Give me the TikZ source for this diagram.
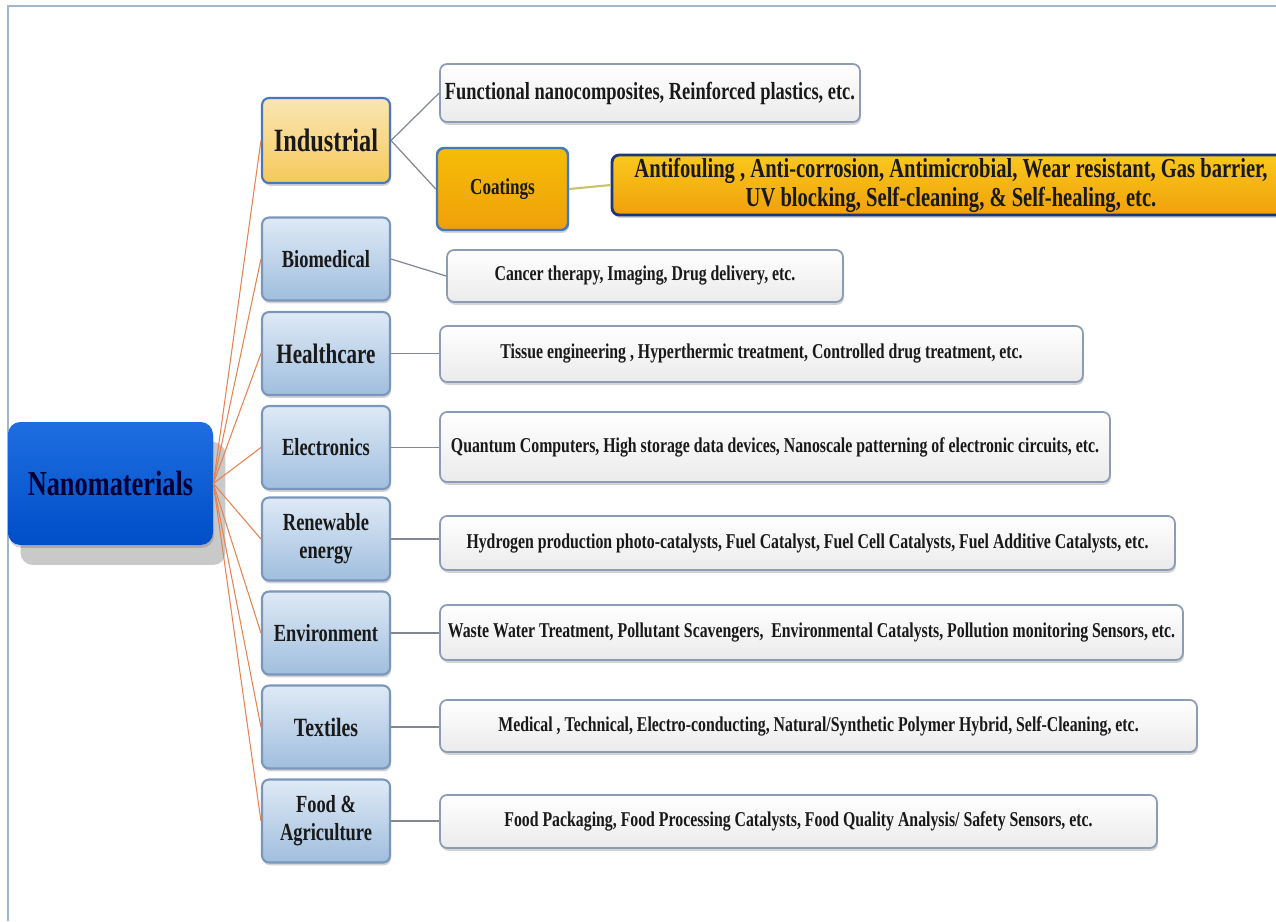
\documentclass[tikz,border=0pt]{standalone}
\usepackage{fontspec}
\setmainfont{Liberation Serif}[FakeStretch=0.75]
\usepackage{xcolor}
\usetikzlibrary{shadows}

\definecolor{catfill}{RGB}{196,216,238}
\definecolor{catdark}{RGB}{160,190,222}
\definecolor{catline}{RGB}{122,150,186}
\definecolor{leafline}{RGB}{140,156,180}
\definecolor{goldfill}{RGB}{245,200,90}
\definecolor{orangefill}{RGB}{240,160,10}
\definecolor{ambertop}{RGB}{250,200,30}
\definecolor{blueline}{RGB}{70,120,190}
\definecolor{navyline}{RGB}{30,55,120}
\definecolor{nanoblue}{RGB}{0,78,200}
\definecolor{nanotop}{RGB}{30,110,225}
\definecolor{fanline}{RGB}{232,130,80}
\definecolor{linkgrey}{RGB}{130,135,145}

\tikzset{
  boxbase/.style={rounded corners=4pt,inner sep=0pt,align=center,text=black!90,
    drop shadow={opacity=0.35,shadow xshift=0.6pt,shadow yshift=-1.6pt}},
  catbox/.style={boxbase,draw=catline,line width=1.2pt,top color=catfill!55!white,
    bottom color=catdark,minimum width=2.56cm,minimum height=1.66cm,
    font=\fontsize{14}{16}\selectfont\bfseries},
  leafbox/.style={boxbase,draw=leafline,line width=1pt,top color=white,
    bottom color=black!8,font=\fontsize{12}{14}\selectfont\bfseries},
  fan/.style={fanline,line width=0.6pt},
  link/.style={linkgrey,line width=0.7pt},
  frame/.style={draw=catline!70,line width=0.8pt}
}

\begin{document}
\begin{tikzpicture}[x=0.02cm,y=-0.02cm]
\useasboundingbox (0,0) rectangle (1276,921);
\draw[frame] (8,921) -- (8,6) -- (1276,6);

% root
\node[boxbase,rounded corners=7pt,top color=nanotop,bottom color=nanoblue,
  minimum width=4.1cm,minimum height=2.46cm,text=blue!20!black,
  font=\fontsize{20}{22}\selectfont\bfseries,
  drop shadow={opacity=0.3,shadow xshift=0.25cm,shadow yshift=-0.4cm,fill=black!70}]
  (nano) at (110.5,483.5) {Nanomaterials};

% fields
\node[catbox,draw=blueline,top color=goldfill!45!white,bottom color=goldfill,
  minimum height=1.7cm,font=\fontsize{18.5}{20}\selectfont\bfseries]
  (ind) at (326,140.5) {Industrial};
\node[catbox] (bio) at (326,259) {Biomedical};
\node[catbox,font=\fontsize{16}{18}\selectfont\bfseries] (hea) at (326,353.5) {Healthcare};
\node[catbox] (ele) at (326,447.5) {Electronics};
\node[catbox] (ren) at (326,539) {Renewable\\energy};
\node[catbox] (env) at (326,633) {Environment};
\node[catbox,font=\fontsize{15}{17}\selectfont\bfseries] (tex) at (326,727) {Textiles};
\node[catbox] (food) at (326,821) {Food \&\\Agriculture};

% applications
\node[leafbox,minimum width=8.4cm,minimum height=1.16cm,
  font=\fontsize{14}{16}\selectfont\bfseries]
  (fun) at (650,93) {Functional nanocomposites, Reinforced plastics, etc.};
\node[boxbase,draw=blueline,line width=1.4pt,top color=orangefill!70!yellow,
  bottom color=orangefill,minimum width=2.62cm,minimum height=1.64cm,
  font=\fontsize{13}{15}\selectfont\bfseries]
  (coat) at (502.5,189) {Coatings};
\node[boxbase,draw=navyline,line width=1.6pt,top color=ambertop,bottom color=orangefill,
  minimum width=13.56cm,minimum height=1.2cm,
  font=\fontsize{15.6}{16.5}\selectfont\bfseries]
  (anti) at (951,185) {Antifouling , Anti-corrosion, Antimicrobial, Wear resistant, Gas barrier,\\UV blocking, Self-cleaning, \& Self-healing, etc.};
\node[leafbox,minimum width=7.92cm,minimum height=1.04cm] (bioL) at (645,276)
  {Cancer therapy, Imaging, Drug delivery, etc.};
\node[leafbox,minimum width=12.86cm,minimum height=1.12cm] (heaL) at (761.5,354)
  {Tissue engineering , Hyperthermic treatment, Controlled drug treatment, etc.};
\node[leafbox,minimum width=13.4cm,minimum height=1.4cm] (eleL) at (775,447)
  {Quantum Computers, High storage data devices, Nanoscale patterning of electronic circuits, etc.};
\node[leafbox,minimum width=14.7cm,minimum height=1.08cm] (renL) at (807.5,543)
  {Hydrogen production photo-catalysts, Fuel Catalyst, Fuel Cell Catalysts, Fuel Additive Catalysts, etc.};
\node[leafbox,minimum width=14.86cm,minimum height=1.1cm] (envL) at (811.5,632.5)
  {Waste Water Treatment, Pollutant Scavengers,\ \ Environmental Catalysts, Pollution monitoring Sensors, etc.};
\node[leafbox,minimum width=15.14cm,minimum height=1.04cm] (texL) at (818.5,726)
  {Medical , Technical, Electro-conducting, Natural/Synthetic Polymer Hybrid, Self-Cleaning, etc.};
\node[leafbox,minimum width=14.34cm,minimum height=1.06cm] (foodL) at (798.5,821.5)
  {Food Packaging, Food Processing Catalysts, Food Quality Analysis/ Safety Sensors, etc.};

% connectors
\foreach \f in {ind,bio,hea,ele,ren,env,tex,food}
  \draw[fan] (nano.east) -- (\f.west);
\draw[link] (ind.east) -- (fun.west);
\draw[link] (ind.east) -- (coat.west);
\draw[link,draw=yellow!50!linkgrey,line width=1.2pt] (coat.east) -- (anti.west);
\draw[link] (bio.east) -- (bioL.west);
\foreach \f in {hea,ele,ren,env,tex,food}
  \draw[link] (\f.east) -- (\f.east -| \f L.west);
\end{tikzpicture}
\end{document}
